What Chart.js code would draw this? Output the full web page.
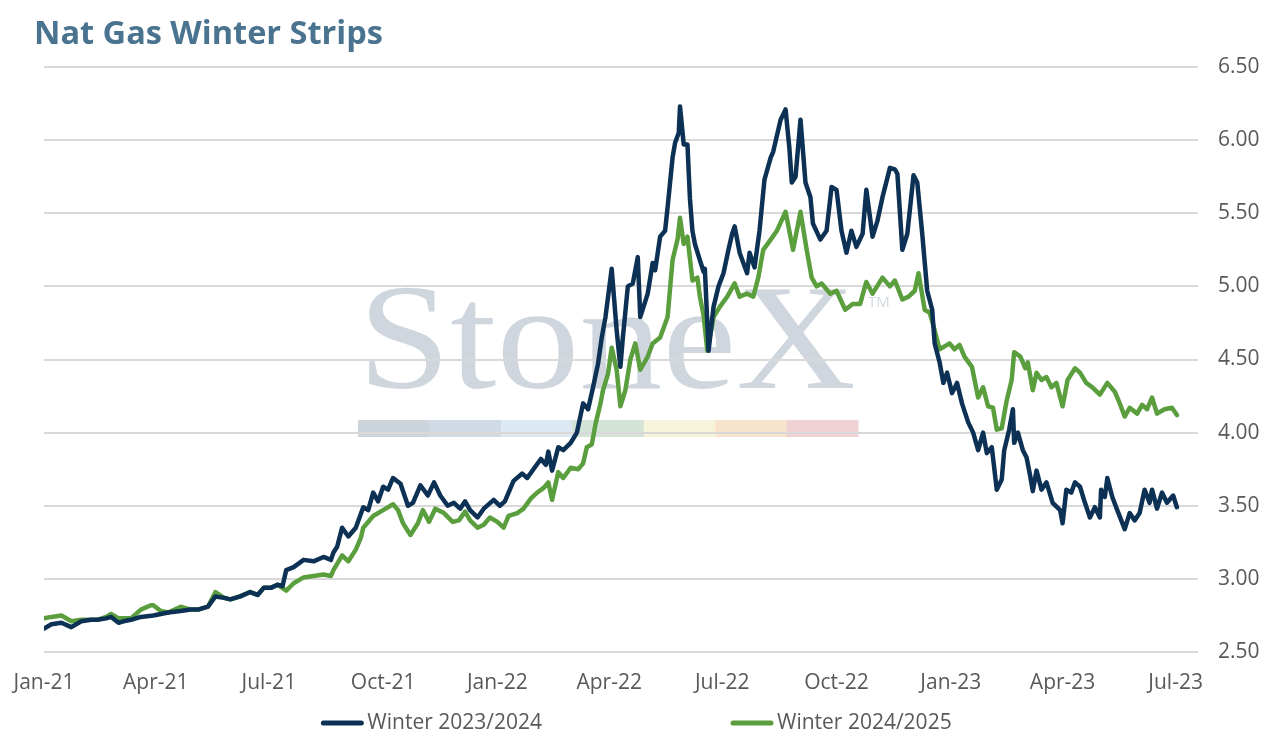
<!DOCTYPE html>
<html>
<head>
<meta charset="utf-8">
<script src="https://cdn.jsdelivr.net/npm/chart.js@4.4.1/dist/chart.umd.min.js"></script>
<style>
  html, body { margin: 0; padding: 0; background: #ffffff; }
  #wrap { position: relative; width: 1272px; height: 743px; }
  #title { position: absolute; left: 34px; top: 16px; margin: 0; font-family: 'Open Sans', sans-serif; font-weight: 700; font-size: 32.5px; line-height: 1; color: #4a7390; }
  canvas { position: absolute; left: 0; top: 0; }
</style>
</head>
<body>
<div id="wrap">
  <canvas id="c" width="1272" height="743"></canvas>
  <h1 id="title">Nat Gas Winter Strips</h1>
</div>
<script>
// ---- Data (x = days since 1 Jan 2021) ----
const tickDays   = [0, 90, 181, 273, 365, 455, 546, 638, 730, 820, 911];
const tickLabels = ['Jan-21','Apr-21','Jul-21','Oct-21','Jan-22','Apr-22','Jul-22','Oct-22','Jan-23','Apr-23','Jul-23'];

const seriesNames = ['Winter 2023/2024', 'Winter 2024/2025'];

const winter2324Days = [0,6,14,22,30,38,43,50,54,60,64,70,78,88,94,100,110,118,124,132,138,145,150,158,166,172,177,183,188,192,195,201,209,217,225,231,233,236,240,245,251,257,261,265,269,273,277,281,287,293,297,303,309,314,319,325,330,335,339,343,349,354,362,367,371,378,385,389,394,400,404,406,409,414,418,424,429,434,438,442,446,449,452,457,461,464,466,470,474,478,480,486,490,492,496,500,502,506,508,511,512,515,518,520,522,524,528,531,532,535,539,543,547,551,554,556,560,566,568,572,576,580,585,587,593,597,600,602,605,609,613,617,619,625,630,634,638,642,646,650,654,659,662,667,671,675,681,685,687,691,695,700,703,707,711,715,717,721,724,727,731,735,739,744,748,752,756,759,763,767,771,773,777,780,781,784,788,791,794,796,799,803,807,812,818,820,823,827,830,834,838,842,846,850,851,854,856,860,864,870,874,878,882,886,890,892,896,900,904,909,912];
const winter2324Values = [2.66,2.69,2.70,2.67,2.71,2.72,2.72,2.73,2.74,2.70,2.71,2.72,2.74,2.75,2.76,2.77,2.78,2.79,2.79,2.81,2.88,2.87,2.86,2.88,2.91,2.89,2.94,2.94,2.96,2.95,3.06,3.08,3.13,3.12,3.15,3.13,3.18,3.22,3.35,3.29,3.35,3.49,3.47,3.59,3.53,3.63,3.61,3.69,3.65,3.50,3.52,3.64,3.57,3.66,3.57,3.50,3.52,3.48,3.53,3.47,3.42,3.48,3.54,3.50,3.53,3.67,3.72,3.69,3.75,3.82,3.78,3.87,3.74,3.90,3.88,3.93,4.00,4.20,4.16,4.31,4.47,4.65,4.79,5.12,4.70,4.45,4.65,5.00,5.02,5.20,4.79,4.95,5.16,5.11,5.34,5.38,5.54,5.88,5.98,6.05,6.23,5.97,5.97,5.60,5.38,5.29,5.18,5.10,5.12,4.56,4.86,5.00,5.09,5.25,5.36,5.41,5.23,5.09,5.23,5.13,5.38,5.73,5.88,5.92,6.14,6.21,5.95,5.71,5.75,6.14,5.71,5.61,5.43,5.32,5.38,5.68,5.66,5.38,5.23,5.38,5.27,5.36,5.66,5.34,5.45,5.61,5.81,5.80,5.77,5.25,5.36,5.76,5.71,5.36,4.97,4.84,4.61,4.48,4.34,4.41,4.27,4.34,4.20,4.07,4.00,3.88,4.00,3.86,3.90,3.61,3.68,3.88,4.02,4.16,3.93,4.00,3.88,3.83,3.70,3.60,3.74,3.61,3.66,3.52,3.47,3.38,3.61,3.59,3.66,3.63,3.52,3.42,3.49,3.42,3.61,3.56,3.69,3.56,3.47,3.34,3.45,3.40,3.45,3.61,3.52,3.61,3.48,3.59,3.52,3.57,3.49];

const winter2425Days = [0,6,14,22,30,38,43,50,54,60,64,70,78,86,88,94,100,110,118,124,132,138,145,150,158,166,172,177,183,188,195,201,209,217,225,231,233,240,245,251,255,257,265,273,281,285,289,295,301,305,310,315,322,329,334,339,343,349,354,359,365,370,374,381,386,392,397,402,406,409,414,418,424,430,434,437,441,444,448,450,454,457,461,464,468,472,476,480,486,490,496,502,506,510,512,515,518,522,526,528,531,534,539,544,550,556,560,566,571,575,579,585,590,597,603,609,614,618,622,626,633,638,645,651,657,662,667,675,681,685,691,696,701,704,709,713,717,721,725,729,733,737,741,747,752,756,760,764,767,771,775,779,781,786,790,792,796,799,803,807,811,815,820,824,830,834,839,844,850,856,862,866,870,874,880,884,888,892,896,902,908,912];
const winter2425Values = [2.73,2.74,2.75,2.71,2.72,2.72,2.72,2.74,2.76,2.73,2.73,2.73,2.79,2.82,2.82,2.78,2.77,2.81,2.79,2.79,2.81,2.91,2.87,2.86,2.88,2.91,2.89,2.94,2.94,2.96,2.92,2.97,3.01,3.02,3.03,3.02,3.06,3.16,3.12,3.20,3.28,3.35,3.43,3.47,3.51,3.47,3.38,3.30,3.38,3.47,3.39,3.48,3.45,3.39,3.40,3.46,3.40,3.35,3.37,3.42,3.39,3.35,3.43,3.45,3.48,3.55,3.59,3.62,3.66,3.54,3.73,3.69,3.76,3.75,3.79,3.90,3.92,4.06,4.20,4.29,4.40,4.58,4.43,4.18,4.29,4.50,4.61,4.43,4.52,4.61,4.65,4.79,5.18,5.32,5.47,5.29,5.34,5.04,5.06,4.93,4.80,4.56,4.79,4.86,4.93,5.02,4.93,4.95,4.93,5.06,5.25,5.32,5.38,5.51,5.25,5.51,5.25,5.06,5.00,5.02,4.95,4.97,4.84,4.88,4.88,5.03,4.95,5.06,5.00,5.04,4.91,4.93,4.97,5.09,4.84,4.82,4.70,4.57,4.59,4.61,4.57,4.60,4.52,4.45,4.24,4.31,4.18,4.17,4.02,4.03,4.22,4.36,4.55,4.52,4.44,4.48,4.29,4.41,4.36,4.38,4.31,4.34,4.18,4.36,4.44,4.41,4.34,4.31,4.26,4.34,4.28,4.20,4.11,4.17,4.13,4.19,4.16,4.24,4.13,4.16,4.17,4.12];

const yTicks = [2.5, 3.0, 3.5, 4.0, 4.5, 5.0, 5.5, 6.0, 6.5];

const seriesColors = ['#0c3154', '#5a9e3e'];

function toPoints(days, values) { return days.map((d, i) => ({ x: d, y: values[i] })); }

Chart.defaults.font.family = "'Open Sans', sans-serif";
Chart.defaults.color = '#595959';

// Watermark (StoneX logo) drawn behind the grid
const watermarkPlugin = {
  id: 'watermark',
  beforeDraw(chart) {
    const ctx = chart.ctx;
    const a = chart.chartArea;
    ctx.save();
    ctx.fillStyle = '#ffffff';
    ctx.fillRect(0, 0, chart.width, chart.height);
    const left = a.left + 314, baseline = a.top + 321, targetW = 498;
    ctx.font = '150px "Liberation Serif", "DejaVu Serif", serif';
    const w = ctx.measureText('StoneX').width;
    ctx.translate(left, baseline);
    ctx.scale(targetW / w, 1);
    ctx.fillStyle = '#cfd6de';
    ctx.textBaseline = 'alphabetic';
    ctx.fillText('StoneX', 0, 0);
    ctx.restore();
    ctx.save();
    ctx.font = '15px "Open Sans", sans-serif';
    ctx.fillStyle = '#d3d9e0';
    ctx.textBaseline = 'middle';
    ctx.fillText('TM', left + 510, a.top + 236);
    const barColors = ['#ccd4dc', '#d0dae4', '#dce9f2', '#d3e3d5', '#f7f4dc', '#f8e4cc', '#f0d2d4'];
    const segW = 500 / barColors.length;
    barColors.forEach((c, i) => {
      ctx.fillStyle = c;
      ctx.fillRect(left + i * segW, a.top + 353, segW + 0.5, 17);
    });
    ctx.restore();
  }
};

// Bottom legend with wide spacing
const legendPlugin = {
  id: 'bottomLegend',
  afterDraw(chart) {
    const ctx = chart.ctx;
    const sets = chart.data.datasets;
    ctx.save();
    ctx.font = '21px "Open Sans", sans-serif';
    const lineW = 44, gap = 3, itemGap = 188;
    const widths = sets.map(d => lineW + gap + ctx.measureText(d.label).width);
    const total = widths.reduce((s, v) => s + v, 0) + itemGap * (sets.length - 1);
    let x = chart.width / 2 - total / 2;
    const y = 723;
    sets.forEach((d, i) => {
      ctx.strokeStyle = d.borderColor;
      ctx.lineWidth = 5;
      ctx.lineCap = 'round';
      ctx.beginPath();
      ctx.moveTo(x + 3, y);
      ctx.lineTo(x + lineW - 3, y);
      ctx.stroke();
      ctx.fillStyle = '#595959';
      ctx.textBaseline = 'middle';
      ctx.textAlign = 'left';
      ctx.fillText(d.label, x + lineW + gap, y);
      x += widths[i] + itemGap;
    });
    ctx.restore();
  }
};

new Chart(document.getElementById('c'), {
  type: 'line',
  data: {
    datasets: [
      { label: seriesNames[0], data: toPoints(winter2324Days, winter2324Values), borderColor: seriesColors[0], backgroundColor: seriesColors[0] },
      { label: seriesNames[1], data: toPoints(winter2425Days, winter2425Values), borderColor: seriesColors[1], backgroundColor: seriesColors[1] }
    ]
  },
  options: {
    responsive: false,
    animation: false,
    devicePixelRatio: 1,
    layout: { padding: { top: 67, left: 44, right: 12, bottom: 47 } },
    elements: {
      line: { borderWidth: 4.5, tension: 0, borderJoinStyle: 'round', borderCapStyle: 'round' },
      point: { radius: 0, hoverRadius: 0 }
    },
    plugins: {
      legend: { display: false },
      title: { display: false },
      tooltip: { enabled: false }
    },
    scales: {
      x: {
        type: 'linear',
        min: 0,
        max: 929,
        grid: { display: false, drawTicks: false },
        border: { display: false },
        afterBuildTicks(scale) { scale.ticks = tickDays.map(v => ({ value: v })); },
        afterFit(scale) { scale.paddingLeft = 0; scale.paddingRight = 0; scale.height = 44; },
        ticks: {
          autoSkip: false,
          maxRotation: 0,
          padding: 18,
          font: { size: 21 },
          color: '#595959',
          callback(value) { const i = tickDays.indexOf(value); return i >= 0 ? tickLabels[i] : ''; }
        }
      },
      y: {
        position: 'right',
        min: 2.5,
        max: 6.5,
        grid: { color: '#d9d9d9', lineWidth: 2, drawTicks: false },
        border: { display: false },
        afterBuildTicks(scale) { scale.ticks = yTicks.map(v => ({ value: v })); },
        afterFit(scale) { scale.paddingTop = 0; scale.paddingBottom = 0; scale.width = 62; },
        ticks: {
          padding: 20,
          font: { size: 21 },
          color: '#595959',
          callback(value) { return Number(value).toFixed(2); }
        }
      }
    }
  },
  plugins: [watermarkPlugin, legendPlugin]
});
</script>
</body>
</html>
